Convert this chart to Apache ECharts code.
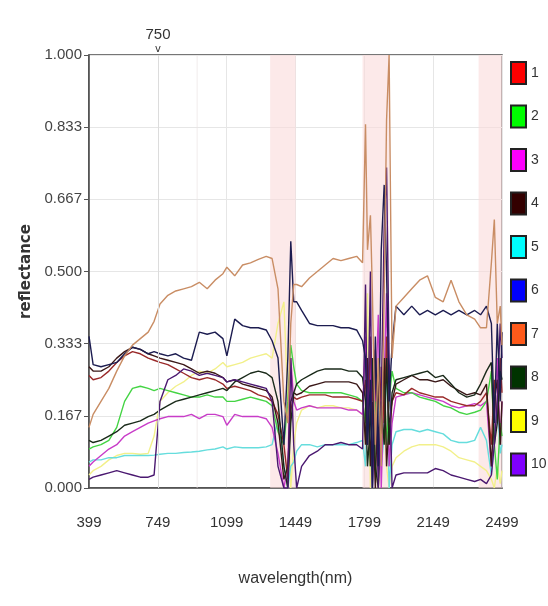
<!DOCTYPE html>
<html><head><meta charset="utf-8">
<script src="https://cdn.jsdelivr.net/npm/echarts@6/dist/echarts.min.js"></script>
<style>html,body{margin:0;padding:0;background:#fff}#c{width:548px;height:606px}</style>
</head><body><div id="c"></div>
<script>
const X0 = 399;
const wavelengths = [399,420,460,500,540,580,620,660,700,730,760,800,840,880,920,960,1000,1040,1080,1100,1140,1180,1220,1260,1300,1330,1360,1390,1410,1425,1440,1455,1480,1520,1560,1600,1640,1680,1720,1760,1790,1805,1815,1830,1840,1855,1870,1885,1900,1912,1925,1940,1960,2000,2040,2080,2120,2160,2200,2240,2280,2320,2360,2390,2420,2445,2460,2475,2490,2499];
const names = ['1','2','3','4','5','6','7','8','9','10'];
const legendColors = ['#ff0000','#00ff00','#ff00ff','#330000','#00ffff','#0000ff','#ff5a1a','#003300','#ffff00','#8000ff'];
const lineColors = ['#9a2a2a','#44d444','#c83cc8','#3a1818','#66dddd','#1c1c50','#c98d64','#1a2a1a','#f2f08a','#4a1870'];
const s1 = [0.26,0.25,0.255,0.27,0.29,0.305,0.315,0.31,0.30,0.295,0.29,0.285,0.275,0.265,0.255,0.25,0.255,0.25,0.24,0.23,0.235,0.23,0.225,0.215,0.21,0.2,0.17,0.1,0.02,0.18,0.21,0.205,0.21,0.215,0.215,0.215,0.21,0.21,0.21,0.205,0.2,0.25,0.1,0.35,0.2,0.32,0.05,0.28,0.15,0.35,0.1,0.2,0.22,0.215,0.23,0.22,0.215,0.21,0.21,0.2,0.195,0.19,0.19,0.2,0.22,0.1,0.25,0.15,0.3,0.22];
const s2 = [0.09,0.095,0.1,0.11,0.14,0.2,0.23,0.235,0.23,0.225,0.23,0.225,0.22,0.215,0.21,0.21,0.215,0.21,0.21,0.2,0.2,0.205,0.21,0.205,0.2,0.19,0.13,0.1,0.2,0.33,0.28,0.24,0.225,0.22,0.22,0.22,0.22,0.22,0.215,0.21,0.2,0.15,0.25,0.05,0.15,0.2,0.05,0.15,0.25,0.1,0.2,0.27,0.23,0.22,0.22,0.21,0.205,0.2,0.19,0.185,0.175,0.17,0.175,0.18,0.2,0.27,0.1,0.02,0.15,0.12];
const s3 = [0.05,0.06,0.075,0.09,0.1,0.12,0.13,0.14,0.15,0.155,0.16,0.165,0.165,0.165,0.17,0.16,0.17,0.17,0.165,0.145,0.17,0.165,0.165,0.165,0.16,0.14,0.08,0.0,0.05,0.3,0.2,0.18,0.185,0.19,0.185,0.185,0.185,0.185,0.18,0.18,0.17,0.35,0.15,0.3,0.0,0.2,0.4,0.0,0.25,0.45,0.05,0.15,0.21,0.215,0.22,0.215,0.21,0.205,0.2,0.19,0.185,0.19,0.195,0.19,0.2,0.05,0.15,0.3,0.1,0.2];
const s4 = [0.28,0.27,0.27,0.28,0.30,0.315,0.325,0.32,0.31,0.305,0.30,0.295,0.29,0.285,0.275,0.265,0.27,0.265,0.255,0.245,0.25,0.24,0.235,0.23,0.225,0.21,0.15,0.02,0.05,0.2,0.22,0.215,0.22,0.235,0.24,0.245,0.245,0.245,0.245,0.24,0.22,0.1,0.3,0.05,0.2,0.0,0.25,0.1,0.3,0.05,0.15,0.2,0.24,0.25,0.26,0.25,0.25,0.245,0.25,0.235,0.225,0.215,0.22,0.215,0.24,0.05,0.2,0.25,0.1,0.2];
const s5 = [0.06,0.065,0.065,0.07,0.07,0.075,0.075,0.075,0.075,0.076,0.078,0.08,0.08,0.082,0.083,0.085,0.088,0.09,0.095,0.09,0.095,0.093,0.093,0.093,0.095,0.1,0.16,0.05,0.0,0.05,0.06,0.085,0.1,0.1,0.095,0.1,0.1,0.1,0.1,0.105,0.11,0.05,0.2,0.1,0.0,0.15,0.25,0.05,0.12,0.3,0.0,0.1,0.13,0.135,0.135,0.13,0.135,0.13,0.125,0.11,0.105,0.105,0.11,0.14,0.11,0.03,0.1,0.2,0.08,0.1];
const s6 = [0.35,0.285,0.28,0.285,0.29,0.31,0.325,0.32,0.31,0.315,0.31,0.305,0.31,0.30,0.295,0.36,0.355,0.36,0.345,0.305,0.39,0.375,0.37,0.37,0.365,0.34,0.3,0.1,0.3,0.57,0.43,0.43,0.41,0.38,0.375,0.375,0.375,0.37,0.37,0.365,0.34,0.3,0.1,0.25,0.0,0.35,0.05,0.55,0.7,0.5,0.2,0.33,0.42,0.40,0.42,0.40,0.41,0.40,0.41,0.40,0.41,0.40,0.41,0.40,0.42,0.38,0.15,0.38,0.2,0.36];
const s7 = [0.14,0.17,0.20,0.23,0.27,0.305,0.33,0.345,0.36,0.385,0.425,0.445,0.455,0.46,0.465,0.475,0.46,0.48,0.495,0.51,0.49,0.515,0.52,0.528,0.535,0.53,0.46,0.2,0.15,0.38,0.47,0.47,0.465,0.485,0.5,0.515,0.53,0.525,0.53,0.535,0.52,0.84,0.55,0.63,0.45,0.1,0.3,0.05,0.45,0.85,1.0,0.3,0.42,0.44,0.46,0.48,0.49,0.44,0.43,0.48,0.43,0.40,0.39,0.37,0.37,0.52,0.62,0.38,0.42,0.33];
const s8 = [0.11,0.105,0.11,0.12,0.13,0.145,0.15,0.155,0.165,0.17,0.18,0.19,0.2,0.205,0.21,0.215,0.22,0.225,0.23,0.225,0.245,0.255,0.265,0.27,0.265,0.255,0.2,0.05,0.0,0.15,0.22,0.24,0.25,0.26,0.27,0.275,0.275,0.275,0.27,0.27,0.255,0.2,0.05,0.15,0.3,0.05,0.0,0.2,0.1,0.3,0.1,0.22,0.25,0.255,0.26,0.265,0.27,0.255,0.26,0.24,0.22,0.21,0.215,0.24,0.27,0.29,0.1,0.15,0.27,0.25];
const s9 = [0.03,0.04,0.05,0.065,0.075,0.08,0.08,0.078,0.08,0.12,0.2,0.22,0.235,0.245,0.26,0.27,0.265,0.275,0.29,0.28,0.285,0.29,0.3,0.305,0.31,0.3,0.38,0.43,0.2,0.0,0.1,0.15,0.18,0.19,0.185,0.19,0.19,0.185,0.185,0.18,0.17,0.1,0.45,0.0,0.3,0.05,0.0,0.1,0.2,0.05,0.0,0.05,0.07,0.085,0.095,0.1,0.1,0.1,0.095,0.085,0.07,0.065,0.06,0.05,0.04,0.02,0.0,0.05,0.01,0.04];
const s10 = [0.02,0.025,0.03,0.035,0.04,0.035,0.03,0.025,0.025,0.03,0.2,0.25,0.26,0.275,0.27,0.26,0.265,0.26,0.255,0.245,0.25,0.245,0.24,0.235,0.23,0.2,0.05,0.0,0.0,0.3,0.1,0.0,0.05,0.075,0.085,0.1,0.1,0.105,0.1,0.1,0.09,0.47,0.1,0.5,0.0,0.3,0.0,0.2,0.6,0.74,0.3,0.0,0.03,0.035,0.035,0.035,0.035,0.045,0.04,0.03,0.025,0.02,0.015,0.02,0.01,0.03,0.1,0.2,0.38,0.3];
const seriesValues = [s1,s2,s3,s4,s5,s6,s7,s8,s9,s10];
const bands = [[1320,1450],[1790,1925],[2380,2499]];
const faintBands = [[946,952]];
const markerWave = 750;
const drawOrder = [8,4,2,1,0,3,7,9,5,6];

const LAB = "'Liberation Sans',Arial,sans-serif";
const chart = echarts.init(document.getElementById('c'), null, {renderer:'canvas'});

const series = drawOrder.map(i => ({
  name: names[i],
  type: 'line',
  symbol: 'none',
  silent: true,
  z: 3,
  itemStyle: {color: legendColors[i]},
  lineStyle: {color: lineColors[i], width: 1.4},
  data: wavelengths.map((w, k) => [w - X0, seriesValues[i][k]])
}));

series.unshift({
  name: 'bands',
  type: 'line',
  data: [],
  silent: true,
  z: 1,
  markArea: {
    silent: true,
    itemStyle: {color: 'rgba(250,218,218,0.6)'},
    data: bands.map(b => [{xAxis: b[0] - X0}, {xAxis: b[1] - X0}])
      .concat(faintBands.map(b => [{xAxis: b[0] - X0, itemStyle:{color:'rgba(235,228,228,0.6)'}}, {xAxis: b[1] - X0}]))
  },
  markLine: {
    silent: true,
    symbol: ['none','none'],
    lineStyle: {color: '#dcdcdc', width: 1, type: 'solid'},
    label: {
      show: true, position: 'end', distance: 0,
      formatter: '{a|' + markerWave + '}\n{b|v}',
      rich: {
        a: {fontFamily: LAB, fontSize: 15, color: '#333', lineHeight: 17, align: 'center'},
        b: {fontFamily: 'DejaVu Sans', fontSize: 10, color: '#333', lineHeight: 12, align: 'center'}
      }
    },
    data: [{xAxis: markerWave - X0}]
  }
});

chart.setOption({
  animation: false,
  backgroundColor: '#fff',
  grid: {left: 89, right: 46, top: 55, bottom: 118, show: true, borderColor: '#4a4a4a', borderWidth: 1.5, containLabel: false},
  legend: {
    orient: 'vertical', left: 505, top: 56,
    itemWidth: 15, itemHeight: 22, itemGap: 19.5,
    icon: 'rect',
    itemStyle: {borderColor: '#222', borderWidth: 2},
    textStyle: {fontFamily: LAB, fontSize: 14, color: '#333'},
    data: names.map((n, i) => ({name: n, itemStyle: {color: legendColors[i], borderColor: '#222', borderWidth: 2}}))
  },
  xAxis: {
    type: 'value', min: 0, max: 2100, interval: 350,
    name: 'wavelength(nm)', nameLocation: 'middle', nameGap: 83,
    nameTextStyle: {fontFamily: LAB, fontSize: 16, color: '#333'},
    axisLine: {show: true, lineStyle: {color: '#4a4a4a', width: 1.5}},
    axisTick: {show: false},
    axisLabel: {margin: 27, fontFamily: LAB, fontSize: 15, color: '#333', formatter: v => String(v + X0)},
    splitLine: {show: true, lineStyle: {color: '#e6e6e6', width: 1}}
  },
  yAxis: {
    type: 'value', min: 0, max: 1, interval: 1/6,
    name: 'reflectance', nameLocation: 'middle', nameGap: 52,
    nameTextStyle: {fontFamily: 'DejaVu Sans', fontWeight: 'bold', fontSize: 15, color: '#333'},
    axisLine: {show: true, lineStyle: {color: '#4a4a4a', width: 1.5}},
    axisTick: {show: true, length: 5, lineStyle: {color: '#555'}},
    axisLabel: {margin: 7, fontFamily: LAB, fontSize: 15, color: '#444', formatter: v => v.toFixed(3)},
    splitLine: {show: true, lineStyle: {color: '#e6e6e6', width: 1}}
  },
  series: series
});
</script></body></html>
